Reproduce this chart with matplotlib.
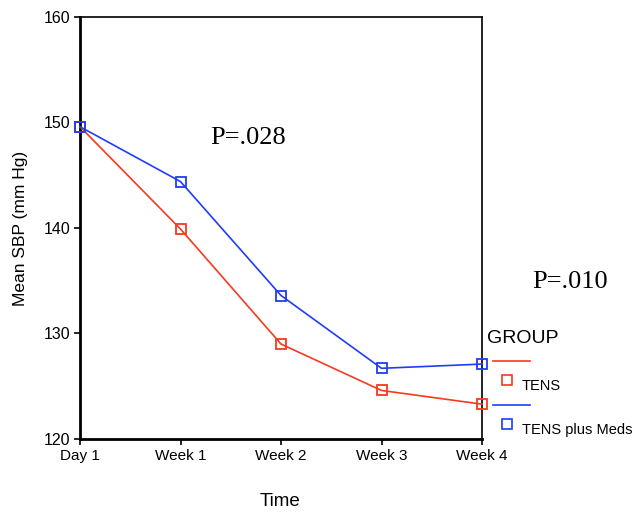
import matplotlib.pyplot as plt
from matplotlib.lines import Line2D

# ── Data ──────────────────────────────────────────────────────────────────────
time_points = ["Day 1", "Week 1", "Week 2", "Week 3", "Week 4"]
tens = [149.6, 139.9, 129.0, 124.6, 123.3]
tens_meds = [149.6, 144.4, 133.6, 126.7, 127.1]
y_ticks = [120, 130, 140, 150, 160]

RED = "#f53a1f"
BLUE = "#1f3df5"

plt.rcParams["font.family"] = ["Liberation Sans", "DejaVu Sans"]

fig = plt.figure(figsize=(6.37, 5.12), dpi=100)
ax = fig.add_axes([0.1256, 0.1426, 0.6311, 0.8242])

x = range(len(time_points))
ax.plot(x, tens, color=RED, lw=1.2, marker="s", ms=7.5, mfc="none", mec=RED,
        mew=1.3, clip_on=False, zorder=3)
ax.plot(x, tens_meds, color=BLUE, lw=1.2, marker="s", ms=7.5, mfc="none", mec=BLUE,
        mew=1.3, clip_on=False, zorder=3)

ax.set_xlim(0, len(time_points) - 1)
ax.set_ylim(120, 160)
ax.set_xticks(list(x))
ax.set_xticklabels(time_points, fontsize=11)
ax.set_yticks(y_ticks)
ax.set_yticklabels([str(v) for v in y_ticks], fontsize=11.5)
ax.tick_params(direction="out", length=4, width=1.2, colors="black", pad=3)
for side in ["left", "bottom"]:
    ax.spines[side].set_linewidth(2)
for side in ["top", "right"]:
    ax.spines[side].set_linewidth(1.2)

ax.set_ylabel("Mean SBP (mm Hg)", fontsize=12.5, labelpad=11)
fig.text(0.44, 0.004, "Time", ha="center", va="bottom", fontsize=13.5)

# P-value annotations
fig.text(0.389, 0.730, "P=.028", family="Liberation Serif", fontsize=19,
         ha="center", va="center")
fig.text(0.895, 0.450, "P=.010", family="Liberation Serif", fontsize=19,
         ha="center", va="center")

# Legend drawn by hand in the style of the original
fig.text(0.765, 0.338, "GROUP", fontsize=14, ha="left", va="center")
fig.add_artist(Line2D([0.774, 0.832], [0.295, 0.295], color=RED, lw=1.2))
fig.add_artist(Line2D([0.796], [0.258], marker="s", ms=7, mfc="none", mec=RED,
                      mew=1.2, ls="none"))
fig.text(0.819, 0.246, "TENS", fontsize=10.5, ha="left", va="center")
fig.add_artist(Line2D([0.774, 0.832], [0.209, 0.209], color=BLUE, lw=1.2))
fig.add_artist(Line2D([0.796], [0.172], marker="s", ms=7, mfc="none", mec=BLUE,
                      mew=1.2, ls="none"))
fig.text(0.819, 0.160, "TENS plus Meds", fontsize=10.5, ha="left", va="center")

fig.savefig("out.png", dpi=100)
